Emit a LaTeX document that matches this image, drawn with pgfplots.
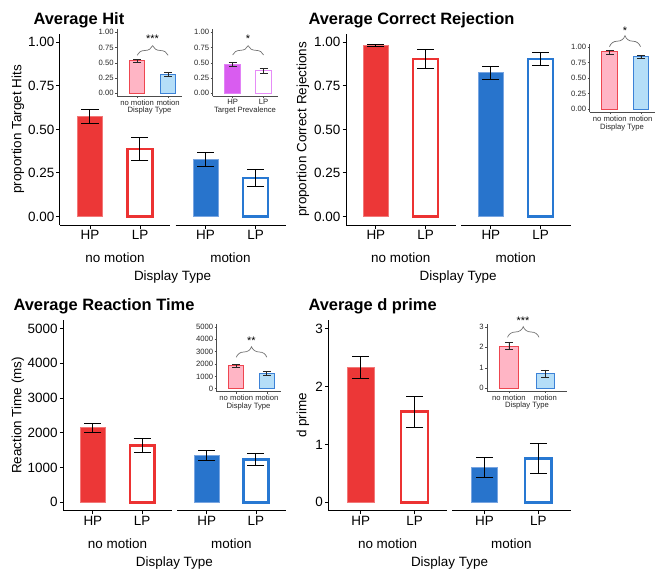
\documentclass[border=0pt]{standalone}
\usepackage{fontspec}
\setmainfont{Liberation Sans}
\usepackage{pgfplots}
\pgfplotsset{compat=1.18}
\usetikzlibrary{decorations.pathreplacing}

\definecolor{rfill}{RGB}{236,55,55}
\definecolor{redge}{RGB}{242,120,120}
\definecolor{rline}{RGB}{236,50,50}
\definecolor{bfill}{RGB}{40,116,204}
\definecolor{bedge}{RGB}{120,165,225}
\definecolor{bline}{RGB}{40,120,210}
\definecolor{ipink}{RGB}{255,181,197}
\definecolor{ired}{RGB}{238,70,80}
\definecolor{iblue}{RGB}{181,222,248}
\definecolor{iblueline}{RGB}{60,130,215}
\definecolor{ipurp}{RGB}{217,92,240}
\definecolor{ipurpedge}{RGB}{225,130,245}
\definecolor{ipurpline}{RGB}{230,140,247}

\pgfplotsset{
  /pgf/number format/assume math mode=true,
  /pgf/number format/1000 sep={},
  mainax/.style={scale only axis, anchor=south west, clip=false,
    xmin=0.4, xmax=2.6, axis x line*=bottom, axis y line*=left,
    axis line style={black, line width=1bp},
    every tick/.style={black, line width=0.9bp}, major tick length=3.5bp, tick align=outside,
    xtick={1,2}, xticklabels={HP,LP},
    ticklabel style={font=\fontsize{13.5}{14}\selectfont},
    xticklabel style={inner sep=1.5bp},
    yticklabel style={inner sep=2bp},
    scaled y ticks=false},
  facetB/.style={axis y line=none, ytick=\empty},
  propy/.style={ymin=-0.05, ymax=1.05, ytick={0,0.25,0.5,0.75,1},
    yticklabel style={/pgf/number format/.cd, fixed, fixed zerofill, precision=2}},
  HPr/.style={ybar, bar width=0.5, fill=rfill, draw=redge, line width=0.9bp},
  LPr/.style={ybar, bar width=0.5, fill=white, draw=rline, line width=2.5bp},
  HPb/.style={ybar, bar width=0.5, fill=bfill, draw=bedge, line width=0.9bp},
  LPb/.style={ybar, bar width=0.5, fill=white, draw=bline, line width=2.5bp},
  errb/.style={error bars/.cd, y dir=both, y explicit, error bar style={black, line width=1bp},
    error mark options={rotate=90, black, line width=1bp, mark size=8.5bp}},
  inset/.style={scale only axis, anchor=south west, clip=false,
    xmin=0.35, xmax=2.45, axis x line*=bottom, axis y line*=left,
    axis line style={black!70, line width=0.6bp},
    every tick/.style={black!70, line width=0.5bp}, major tick length=2bp, tick align=outside,
    xtick={1,2},
    ticklabel style={font=\fontsize{7.7}{8}\selectfont, text=black!85},
    xticklabel style={inner sep=1bp},
    yticklabel style={inner sep=1.2bp},
    scaled y ticks=false},
  ipropy/.style={ymin=-0.05, ymax=1.05, ytick={0,0.25,0.5,0.75,1},
    yticklabel style={/pgf/number format/.cd, fixed, fixed zerofill, precision=2}},
  pinkb/.style={ybar, bar width=0.5, fill=ipink, draw=ired, line width=1bp},
  lblueb/.style={ybar, bar width=0.5, fill=iblue, draw=iblueline, line width=1bp},
  purpb/.style={ybar, bar width=0.5, fill=ipurp, draw=ipurpedge, line width=0.8bp},
  purpo/.style={ybar, bar width=0.5, fill=white, draw=ipurpline, line width=1.3bp},
  ierr/.style={error bars/.cd, y dir=both, y explicit, error bar style={black!85, line width=0.6bp},
    error mark options={rotate=90, black!85, line width=0.6bp, mark size=4bp}},
}

\begin{document}
\begin{tikzpicture}
\path[use as bounding box] (0,0) rectangle (663bp,571bp);

% ===== Panel 1: Average Hit =====
\begin{axis}[mainax, propy, at={(60bp,345.8bp)}, width=110bp, height=191.6bp]
\addplot[HPr, errb] coordinates {(1,0.572) +- (0,0.041)};
\addplot[LPr, errb] coordinates {(2,0.388) +- (0,0.068)};
\end{axis}
\begin{axis}[mainax, propy, facetB, at={(175.5bp,345.8bp)}, width=110bp, height=191.6bp]
\addplot[HPb, errb] coordinates {(1,0.327) +- (0,0.041)};
\addplot[LPb, errb] coordinates {(2,0.222) +- (0,0.050)};
\end{axis}

% ===== Panel 2: Average Correct Rejection =====
\begin{axis}[mainax, propy, at={(346bp,345.8bp)}, width=109.5bp, height=191.6bp]
\addplot[HPr, errb] coordinates {(1,0.980) +- (0,0.005)};
\addplot[LPr, errb] coordinates {(2,0.904) +- (0,0.053)};
\end{axis}
\begin{axis}[mainax, propy, facetB, at={(461bp,345.8bp)}, width=109.5bp, height=191.6bp]
\addplot[HPb, errb] coordinates {(1,0.825) +- (0,0.036)};
\addplot[LPb, errb] coordinates {(2,0.904) +- (0,0.040)};
\end{axis}

% ===== Panel 3: Average Reaction Time =====
\begin{axis}[mainax, at={(63.3bp,60bp)}, width=108.35bp, height=191.1bp,
  ymin=-250, ymax=5250, ytick={0,1000,2000,3000,4000,5000}]
\addplot[HPr, errb] coordinates {(1,2147) +- (0,133)};
\addplot[LPr, errb] coordinates {(2,1640) +- (0,205)};
\end{axis}
\begin{axis}[mainax, facetB, at={(177.15bp,60bp)}, width=108.35bp, height=191.1bp,
  ymin=-250, ymax=5250]
\addplot[HPb, errb] coordinates {(1,1341) +- (0,140)};
\addplot[LPb, errb] coordinates {(2,1237) +- (0,172)};
\end{axis}

% ===== Panel 4: Average d prime =====
\begin{axis}[mainax, at={(328.5bp,60bp)}, width=118.25bp, height=191.1bp,
  ymin=-0.15, ymax=3.15, ytick={0,1,2,3}]
\addplot[HPr, errb] coordinates {(1,2.325) +- (0,0.195)};
\addplot[LPr, errb] coordinates {(2,1.565) +- (0,0.270)};
\end{axis}
\begin{axis}[mainax, facetB, at={(452.25bp,60bp)}, width=118.25bp, height=191.1bp,
  ymin=-0.15, ymax=3.15]
\addplot[HPb, errb] coordinates {(1,0.598) +- (0,0.170)};
\addplot[LPb, errb] coordinates {(2,0.760) +- (0,0.260)};
\end{axis}

% ===== Insets =====
\begin{axis}[inset, ipropy, at={(117bp,474.7bp)}, width=65bp, height=67bp, xticklabels={no motion,motion}]
\addplot[pinkb, ierr] coordinates {(1,0.530) +- (0,0.030)};
\addplot[lblueb, ierr] coordinates {(2,0.315) +- (0,0.032)};
\end{axis}
\begin{axis}[inset, ipropy, at={(212.5bp,474.7bp)}, width=65bp, height=67bp, xticklabels={HP,LP}]
\addplot[purpb, ierr] coordinates {(1,0.470) +- (0,0.035)};
\addplot[purpo, ierr] coordinates {(2,0.370) +- (0,0.035)};
\end{axis}
\begin{axis}[inset, ipropy, at={(589.5bp,458.6bp)}, width=65.5bp, height=68.5bp, xticklabels={no motion,motion}]
\addplot[pinkb, ierr] coordinates {(1,0.920) +- (0,0.030)};
\addplot[lblueb, ierr] coordinates {(2,0.840) +- (0,0.028)};
\end{axis}
\begin{axis}[inset, at={(216.5bp,179.2bp)}, width=64bp, height=67.9bp, xticklabels={no motion,motion},
  ymin=-250, ymax=5250, ytick={0,1000,2000,3000,4000,5000}]
\addplot[pinkb, ierr] coordinates {(1,1870) +- (0,120)};
\addplot[lblueb, ierr] coordinates {(2,1260) +- (0,150)};
\end{axis}
\begin{axis}[inset, at={(487bp,179.6bp)}, width=80.3bp, height=67.7bp, xticklabels={no motion,motion},
  xmin=0.4, xmax=2.6, ymin=-0.15, ymax=3.15, ytick={0,1,2,3}]
\addplot[pinkb, ierr] coordinates {(1,2.05) +- (0,0.17)};
\addplot[lblueb, ierr] coordinates {(2,0.72) +- (0,0.18)};
\end{axis}

% ===== Text and annotations (pixel coordinates, y downwards) =====
\begin{scope}[x=1bp, y=-1bp, yshift=571bp]
\tikzset{ttl/.style={anchor=base west, font=\fontsize{16.5}{18}\selectfont\bfseries},
  lab/.style={font=\fontsize{13.5}{15}\selectfont},
  ilab/.style={font=\fontsize{7.7}{8}\selectfont, text=black!85},
  brk/.style={draw=black!55, line width=0.7bp, decorate},
  stars/.style={anchor=base, font=\fontsize{11}{11}\selectfont}}
\node[ttl] at (30,24.5) {Average Hit};
\node[ttl] at (305,24.5) {Average Correct Rejection};
\node[ttl] at (10,310.5) {Average Reaction Time};
\node[ttl] at (305,310.5) {Average d prime};

\node[lab, rotate=90] at (18,129.5) {proportion Target Hits};
\node[lab, rotate=90] at (303,129.5) {proportion Correct Rejections};
\node[lab, rotate=90] at (18,415.5) {Reaction Time (ms)};
\node[lab, rotate=90] at (303,415.5) {d prime};

\node[lab] at (115,258) {no motion};
\node[lab] at (230.5,258) {motion};
\node[lab] at (400.75,258) {no motion};
\node[lab] at (515.75,258) {motion};
\node[lab] at (117.5,543.3) {no motion};
\node[lab] at (231.3,543.3) {motion};
\node[lab] at (387.6,543.3) {no motion};
\node[lab] at (511.4,543.3) {motion};

\node[lab] at (172.5,277.5) {Display Type};
\node[lab] at (458.2,277.5) {Display Type};
\node[lab] at (174.4,562.7) {Display Type};
\node[lab] at (449.5,562.7) {Display Type};

\node[ilab] at (149.5,110.5) {Display Type};
\node[ilab] at (245,110.5) {Target Prevalence};
\node[ilab] at (622,127.3) {Display Type};
\node[ilab] at (248.5,406.7) {Display Type};
\node[ilab] at (527,406) {Display Type};

\draw[brk, decoration={brace, amplitude=9.6bp}] (137.1,55.3) -- (168.1,55.3);
\node[stars] at (152.6,42.4) {***};
\draw[brk, decoration={brace, amplitude=9.3bp}] (232.6,55) -- (263.6,55);
\node[stars] at (248.1,42.4) {*};
\draw[brk, decoration={brace, amplitude=11bp}] (609.5,46.7) -- (640.5,46.7);
\node[stars] at (625,34.7) {*};
\draw[brk, decoration={brace, amplitude=10.6bp}] (236.3,357.3) -- (266.8,357.3);
\node[stars] at (251.5,344.7) {**};
\draw[brk, decoration={brace, amplitude=10.6bp}] (507.5,337.3) -- (539,337.3);
\node[stars] at (523,324.7) {***};
\end{scope}
\end{tikzpicture}
\end{document}
